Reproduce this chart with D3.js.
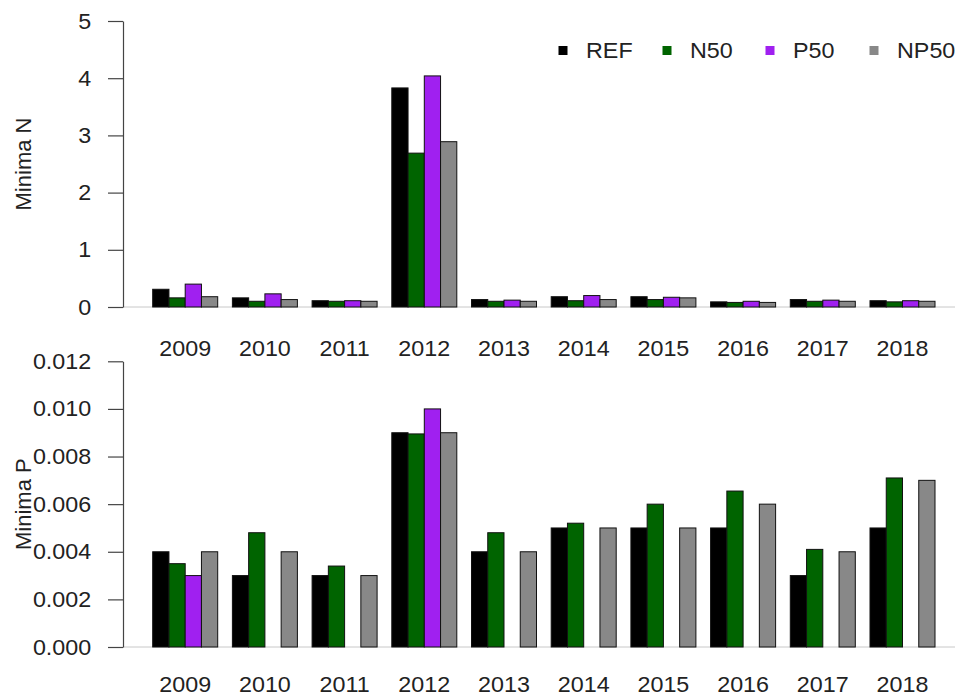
<!DOCTYPE html>
<html>
<head>
<meta charset="utf-8">
<script src="https://cdn.jsdelivr.net/npm/d3@7"></script>
<style>
  html, body { margin: 0; padding: 0; background: #fff; }
  svg { display: block; font-family: "Liberation Sans", Arial, Helvetica, sans-serif; }
</style>
</head>
<body>
<svg id="chart" width="955" height="697"></svg>
<script>
// Years shown on the x axis of both panels
const years = ["2009", "2010", "2011", "2012", "2013", "2014", "2015", "2016", "2017", "2018"];
const seriesNames = ["REF", "N50", "P50", "NP50"];
const seriesColors = ["#000000", "#006400", "#a020f0", "#888888"];

// Minima N per scenario
const nREF  = [0.31, 0.16, 0.11, 3.83, 0.13, 0.18, 0.18, 0.09, 0.13, 0.11];
const nN50  = [0.16, 0.10, 0.10, 2.69, 0.10, 0.11, 0.13, 0.08, 0.10, 0.09];
const nP50  = [0.40, 0.23, 0.11, 4.04, 0.12, 0.20, 0.17, 0.10, 0.12, 0.11];
const nNP50 = [0.18, 0.13, 0.10, 2.89, 0.10, 0.13, 0.16, 0.08, 0.10, 0.10];

// Minima P per scenario
const pREF  = [0.004, 0.003, 0.003, 0.009, 0.004, 0.005, 0.005, 0.005, 0.003, 0.005];
const pN50  = [0.0035, 0.0048, 0.0034, 0.00895, 0.0048, 0.0052, 0.0060, 0.00655, 0.0041, 0.0071];
const pP50  = [0.003, 0, 0, 0.010, 0, 0, 0, 0, 0, 0];
const pNP50 = [0.004, 0.004, 0.003, 0.009, 0.004, 0.005, 0.005, 0.006, 0.004, 0.007];

// Axis tick values
const nTicks = [0, 1, 2, 3, 4, 5];
const pTicks = [0, 0.002, 0.004, 0.006, 0.008, 0.010, 0.012];

const FONT = 22;
const WIDEN = "scale(1.06,1)";   // slightly wider lettering

const svg = d3.select("#chart");

const x = d3.scaleBand().domain(years).range([138, 949.7]).padding(0.1844);
const xs = d3.scaleBand().domain(seriesNames).range([0, x.bandwidth()]).padding(0);
const color = d3.scaleOrdinal().domain(seriesNames).range(seriesColors);

function panel(opts) {
  const { series, ticks, fmt, y0, y1, label, yearsY } = opts;
  const y = d3.scaleLinear().domain([ticks[0], ticks[ticks.length - 1]]).range([y0, y1]);
  const g = svg.append("g");

  // zero line across the plot
  g.append("line")
    .attr("x1", 123).attr("x2", 955)
    .attr("y1", y(0)).attr("y2", y(0))
    .attr("stroke", "#c8c8c8").attr("stroke-width", 1);

  // bars
  const rows = [];
  years.forEach((yr, i) => {
    seriesNames.forEach((s, j) => rows.push({ year: yr, name: s, value: series[j][i] }));
  });
  g.selectAll("rect.bar").data(rows).join("rect")
    .attr("class", "bar")
    .attr("x", d => x(d.year) + xs(d.name))
    .attr("width", xs.bandwidth())
    .attr("y", d => y(d.value))
    .attr("height", d => y(0) - y(d.value))
    .attr("fill", d => color(d.name))
    .attr("stroke", "#111")
    .attr("stroke-width", 1);

  // y axis
  const ax = g.append("g")
    .attr("transform", "translate(123,0)")
    .call(d3.axisLeft(y).tickValues(ticks).tickFormat(fmt).tickSize(15).tickSizeOuter(0).tickPadding(15));
  ax.select(".domain").attr("stroke", "#444").attr("stroke-width", 1.2);
  ax.selectAll(".tick line").attr("stroke", "#444").attr("stroke-width", 1.2);
  ax.selectAll(".tick text")
    .attr("font-size", FONT).attr("fill", "#222")
    .attr("transform", WIDEN)
    .attr("font-family", "Liberation Sans, Arial, sans-serif");

  // year labels
  const xa = g.append("g")
    .attr("transform", `translate(0,${yearsY})`)
    .call(d3.axisBottom(x).tickSize(0).tickPadding(0));
  xa.select(".domain").remove();
  xa.selectAll(".tick text")
    .attr("font-size", FONT).attr("fill", "#222")
    .attr("dy", 0).attr("y", 0)
    .attr("transform", WIDEN)
    .attr("font-family", "Liberation Sans, Arial, sans-serif");

  // y axis title
  g.append("text")
    .attr("transform", `translate(31,${(y0 + y1) / 2}) rotate(-90)`)
    .attr("text-anchor", "middle")
    .attr("font-size", FONT)
    .attr("fill", "#222")
    .text(label);
}

panel({
  series: [nREF, nN50, nP50, nNP50],
  ticks: nTicks, fmt: d3.format("d"),
  y0: 307, y1: 21, label: "Minima N", yearsY: 356
});

panel({
  series: [pREF, pN50, pP50, pNP50],
  ticks: pTicks, fmt: d3.format(".3f"),
  y0: 647, y1: 361.3, label: "Minima P", yearsY: 692
});

// legend
const legendX = [563, 667, 770, 874];
const legend = svg.append("g");
seriesNames.forEach((s, i) => {
  legend.append("rect")
    .attr("x", legendX[i] - 4.5).attr("y", 46)
    .attr("width", 9).attr("height", 9)
    .attr("fill", color(s));
  legend.append("g")
    .attr("transform", `translate(${legendX[i] + 23},58)`)
    .append("text")
    .attr("transform", WIDEN)
    .attr("font-size", FONT).attr("fill", "#222")
    .text(s);
});
</script>
</body>
</html>
